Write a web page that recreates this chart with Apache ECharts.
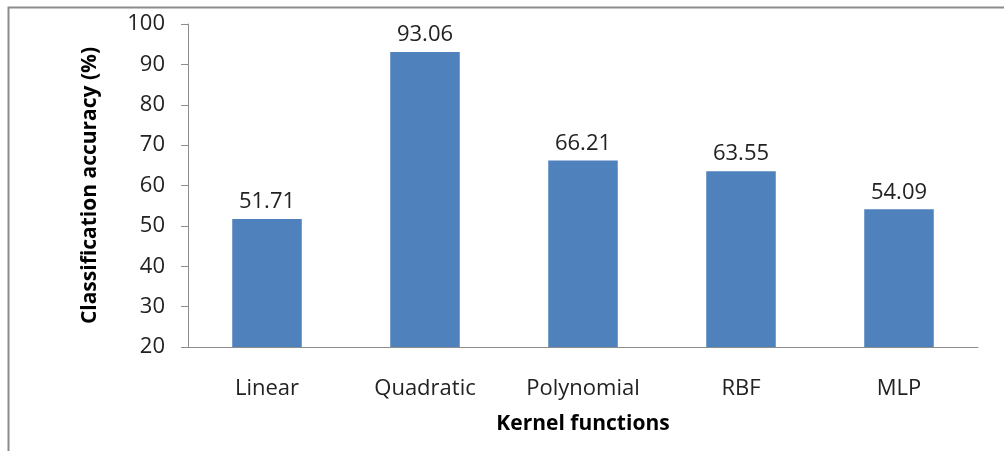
<!DOCTYPE html>
<html><head><meta charset="utf-8">
<script src="https://cdn.jsdelivr.net/npm/echarts@6/dist/echarts.min.js"></script>
<style>html,body{margin:0;padding:0;background:#fff}#c{width:1004px;height:451px}</style>
</head><body><div id="c"></div>
<script>
var categories = ["Linear", "Quadratic", "Polynomial", "RBF", "MLP"];
var accuracy = [51.71, 93.06, 66.21, 63.55, 54.09];
var yTicks = [20, 30, 40, 50, 60, 70, 80, 90, 100];

var chart = echarts.init(document.getElementById('c'));
var font = '"Open Sans", Lato, sans-serif';
chart.setOption({
  animation: false,
  graphic: [{
    type: 'rect', shape: {x: 8.5, y: 7.5, width: 1100, height: 500},
    style: {fill: 'none', stroke: '#8c8c8c', lineWidth: 2}, z: -1
  }],
  grid: {left: 188, right: 26, top: 24, bottom: 104},
  xAxis: {
    type: 'category', data: categories,
    name: 'Kernel functions', nameLocation: 'middle', nameGap: 67,
    nameTextStyle: {fontFamily: font, fontWeight: 'bold', fontSize: 21, color: '#000'},
    axisLine: {lineStyle: {color: '#8c8c8c', width: 1}},
    axisTick: {show: false},
    axisLabel: {fontFamily: font, fontSize: 22, color: '#222', margin: 31}
  },
  yAxis: {
    type: 'value', min: yTicks[0], max: yTicks[yTicks.length - 1], interval: 10,
    name: 'Classification accuracy (%)', nameLocation: 'middle', nameGap: 87,
    nameTextStyle: {fontFamily: font, fontWeight: 'bold', fontSize: 21, color: '#000'},
    axisLine: {show: true, lineStyle: {color: '#8c8c8c', width: 1}},
    axisTick: {show: true, inside: false, length: 7, lineStyle: {color: '#8c8c8c'}},
    axisLabel: {fontFamily: font, fontSize: 22, color: '#222', margin: 23},
    splitLine: {show: false}
  },
  series: [{
    type: 'bar', data: accuracy, barWidth: '44%',
    itemStyle: {color: '#4F81BD'},
    label: {show: true, position: 'top', distance: 6, fontFamily: font, fontSize: 22, color: '#222',
      formatter: function (p) { return p.value.toFixed(2); }}
  }]
});
</script></body></html>
